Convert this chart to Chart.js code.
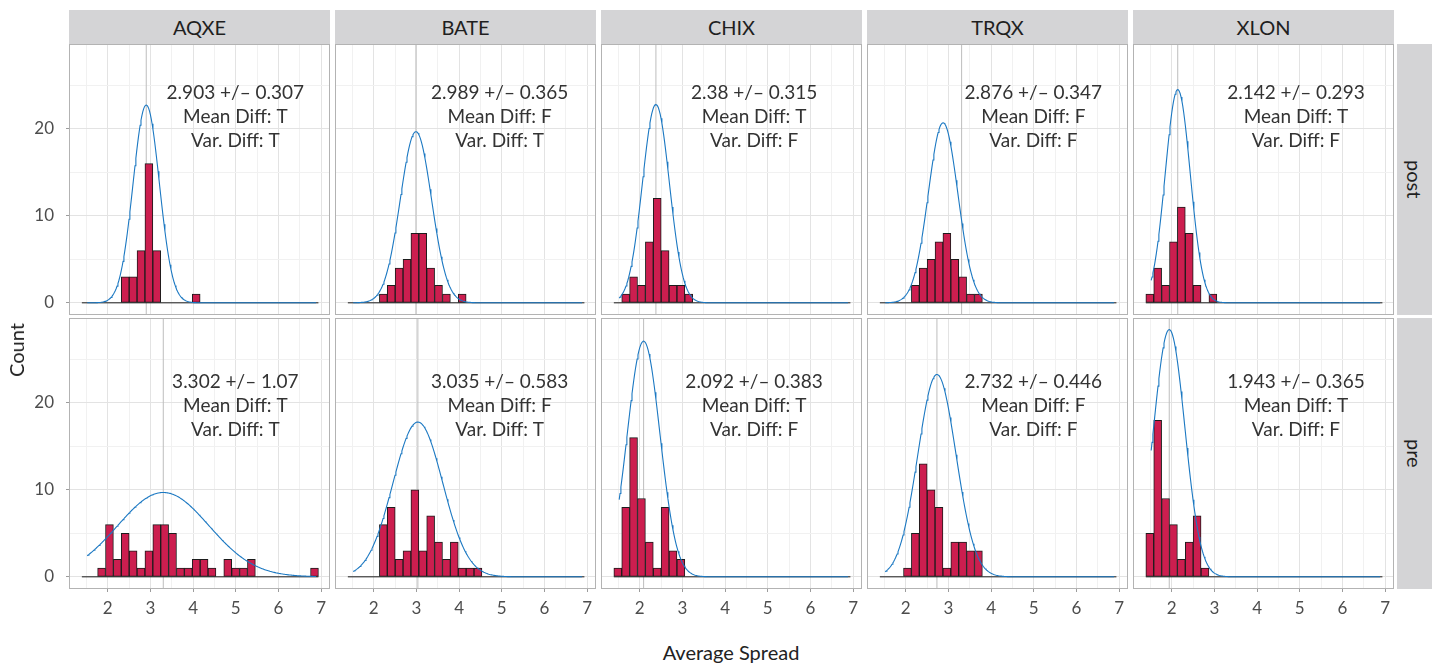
<!DOCTYPE html>
<html>
<head>
<meta charset="utf-8">
<script src="https://cdn.jsdelivr.net/npm/chart.js@4.4.1/dist/chart.umd.min.js"></script>
<style>
  body { margin: 0; background: #fff; font-family: Lato, sans-serif; }
  #wrap { position: relative; width: 1432px; height: 665px; overflow: hidden; background: #fff; }
  #wrap canvas { position: absolute; }
  .strip { position: absolute; background: #d4d4d6; color: #1f1f1f; font-size: 20px;
           display: flex; align-items: center; justify-content: center; }
  .strip.side span { writing-mode: vertical-rl; }
  .axisTitle { position: absolute; color: #222; font-size: 20px; white-space: nowrap; }
</style>
</head>
<body>
<div id="wrap"></div>
<script>
// facets
var markets = ['AQXE', 'BATE', 'CHIX', 'TRQX', 'XLON'];
var periods = ['post', 'pre'];

// histogram bins shared by all panels (30 bins)
var binStart = 1.395;
var binWidth = 0.1847;

// counts per bin
var postAQXE = [0,0,0,0,0,3,3,6,16,6,0,0,0,0,1,0,0,0,0,0,0,0,0,0,0,0,0,0,0,0];
var postBATE = [0,0,0,0,1,2,4,5,8,8,4,2,1,0,1,0,0,0,0,0,0,0,0,0,0,0,0,0,0,0];
var postCHIX = [0,1,3,2,7,12,6,2,2,1,0,0,0,0,0,0,0,0,0,0,0,0,0,0,0,0,0,0,0,0];
var postTRQX = [0,0,0,0,2,4,5,7,8,5,3,1,1,0,0,0,0,0,0,0,0,0,0,0,0,0,0,0,0,0];
var postXLON = [1,4,2,7,11,8,2,0,1,0,0,0,0,0,0,0,0,0,0,0,0,0,0,0,0,0,0,0,0,0];
var preAQXE  = [0,0,1,6,2,5,3,1,3,6,6,5,1,1,2,2,1,0,2,1,1,2,0,0,0,0,0,0,0,1];
var preBATE  = [0,0,0,0,6,8,2,3,10,3,7,4,2,4,1,1,1,0,0,0,0,0,0,0,0,0,0,0,0,0];
var preCHIX  = [1,8,16,9,4,1,8,3,2,0,0,0,0,0,0,0,0,0,0,0,0,0,0,0,0,0,0,0,0,0];
var preTRQX  = [0,0,0,1,5,13,10,8,1,4,4,3,3,0,0,0,0,0,0,0,0,0,0,0,0,0,0,0,0,0];
var preXLON  = [5,18,9,6,2,4,7,1,0,0,0,0,0,0,0,0,0,0,0,0,0,0,0,0,0,0,0,0,0,0];

// fitted normal curves and test results (from the panel labels)
var postMean = [2.903, 2.989, 2.38, 2.876, 2.142];
var postSd   = [0.307, 0.365, 0.315, 0.347, 0.293];
var preMean  = [3.302, 3.035, 2.092, 2.732, 1.943];
var preSd    = [1.07, 0.583, 0.383, 0.446, 0.365];
var meanDiff = ['T', 'F', 'T', 'F', 'T'];
var varDiff  = ['T', 'T', 'F', 'F', 'F'];
var curveBinWidth = 0.5;
var curveFrom = 1.52, curveTo = 6.88;

// grey reference line in each panel
var postRefLine = [2.903, 2.989, 2.38, 3.31, 2.142];
var preRefLine  = [3.302, 3.035, 2.092, 2.732, 1.943];

// axes
var xTicks = [2, 3, 4, 5, 6, 7];
var xMinor = [1.5, 2.5, 3.5, 4.5, 5.5, 6.5];
var yTicks = [0, 10, 20];
var yMinor = [5, 15, 25];

var counts = [[postAQXE, postBATE, postCHIX, postTRQX, postXLON],
              [preAQXE, preBATE, preCHIX, preTRQX, preXLON]];
var means = [postMean, preMean];
var sds = [postSd, preSd];
var refLines = [postRefLine, preRefLine];

// layout (pixels)
var PANEL_X0 = 69, PANEL_STEP = 266, PANEL_W = 261, PANEL_H = 271;
var ROW_TOP = [44, 318];
var labelX = [4.99, 4.95, 4.68, 4.99, 4.91];
var labelY = [23.39, 21.67];
var LINE_GAP = 24;

var wrap = document.getElementById('wrap');

function dnorm(x, m, s) {
    return Math.exp(-0.5 * Math.pow((x - m) / s, 2)) / (s * Math.sqrt(2 * Math.PI));
}

function makePanel(r, c) {
    var data = counts[r][c];
    var m = means[r][c], s = sds[r][c];
    var n = data.reduce(function (a, b) { return a + b; }, 0);

    var bars = data.map(function (v, i) {
        return { x: binStart + (i + 0.5) * binWidth, y: v };
    });
    var curve = [];
    for (var x = curveFrom; x <= curveTo + 1e-9; x += 0.02) {
        curve.push({ x: x, y: n * curveBinWidth * dnorm(x, m, s) });
    }
    var baseline = [{ x: binStart, y: 0 }, { x: binStart + data.length * binWidth, y: 0 }];
    var ref = [{ x: refLines[r][c], y: -5 }, { x: refLines[r][c], y: 40 }];

    var padLeft = c === 0 ? PANEL_X0 : 0;
    var padBottom = r === 1 ? 42 : 0;
    var canvas = document.createElement('canvas');
    canvas.width = padLeft + PANEL_W;
    canvas.height = PANEL_H + padBottom;
    canvas.style.left = (c === 0 ? 0 : PANEL_X0 + c * PANEL_STEP) + 'px';
    canvas.style.top = ROW_TOP[r] + 'px';
    wrap.appendChild(canvas);

    var lines = [m + ' +/\u2013 ' + s, 'Mean Diff: ' + meanDiff[c], 'Var. Diff: ' + varDiff[c]];

    new Chart(canvas.getContext('2d'), {
        type: 'bar',
        data: {
            datasets: [
                { type: 'line', data: curve, borderColor: '#1b78c2', borderWidth: 1.1,
                  pointRadius: 0, fill: false, tension: 0 },
                { data: bars, backgroundColor: '#cc1e4f', borderColor: '#1c1c1c', borderWidth: 1,
                  borderSkipped: false, barPercentage: 1, categoryPercentage: 1 },
                { type: 'line', data: baseline, borderColor: '#1c1c1c', borderWidth: 1,
                  pointRadius: 0, fill: false },
                { type: 'line', data: ref, borderColor: '#bdbdbd', borderWidth: 1,
                  pointRadius: 0, fill: false }
            ]
        },
        options: {
            responsive: false,
            animation: false,
            layout: { padding: 0 },
            plugins: { legend: { display: false }, tooltip: { enabled: false } },
            scales: {
                x: {
                    type: 'linear', min: 1.094, max: 7.207, offset: false,
                    afterBuildTicks: function (sc) {
                        sc.ticks = xMinor.concat(xTicks).sort(function (a, b) { return a - b; })
                            .map(function (v) { return { value: v }; });
                    },
                    afterFit: function (sc) {
                        sc.height = padBottom;
                        sc.paddingLeft = 0; sc.paddingRight = 0;
                        sc.paddingTop = 0; sc.paddingBottom = 0;
                    },
                    border: { display: false },
                    grid: {
                        offset: false,
                        color: function (ctx) { return xTicks.indexOf(ctx.tick.value) >= 0 ? '#e3e3e3' : '#f1f1f1'; },
                        drawTicks: r === 1, tickLength: 3,
                        tickColor: function (ctx) { return xTicks.indexOf(ctx.tick.value) >= 0 ? '#9c9c9c' : 'rgba(0,0,0,0)'; }
                    },
                    ticks: {
                        display: r === 1, autoSkip: false, maxRotation: 0, padding: 6,
                        color: '#4d4d4d', font: { family: 'Lato', size: 17 },
                        callback: function (v) { return xTicks.indexOf(v) >= 0 ? String(v) : ''; }
                    }
                },
                y: {
                    type: 'linear', min: -1.4, max: 29.75,
                    afterBuildTicks: function (sc) {
                        sc.ticks = yTicks.concat(yMinor).sort(function (a, b) { return a - b; })
                            .map(function (v) { return { value: v }; });
                    },
                    afterFit: function (sc) {
                        sc.width = padLeft;
                        sc.paddingLeft = 0; sc.paddingRight = 0;
                        sc.paddingTop = 0; sc.paddingBottom = 0;
                    },
                    border: { display: false },
                    grid: {
                        color: function (ctx) { return yTicks.indexOf(ctx.tick.value) >= 0 ? '#e3e3e3' : '#f1f1f1'; },
                        drawTicks: c === 0, tickLength: 3,
                        tickColor: function (ctx) { return yTicks.indexOf(ctx.tick.value) >= 0 ? '#9c9c9c' : 'rgba(0,0,0,0)'; }
                    },
                    ticks: {
                        display: c === 0, autoSkip: false, padding: 12,
                        color: '#4d4d4d', font: { family: 'Lato', size: 17 },
                        callback: function (v) { return yTicks.indexOf(v) >= 0 ? String(v) : ''; }
                    }
                }
            }
        },
        plugins: [{
            id: 'panelText',
            afterDatasetsDraw: function (chart) {
                var ctx = chart.ctx;
                var px = chart.scales.x.getPixelForValue(labelX[c]);
                var py = chart.scales.y.getPixelForValue(labelY[r]);
                ctx.save();
                ctx.font = '19px Lato';
                ctx.fillStyle = '#333333';
                ctx.textAlign = 'center';
                ctx.textBaseline = 'alphabetic';
                lines.forEach(function (t, i) { ctx.fillText(t, px, py + i * LINE_GAP); });
                ctx.restore();
            },
            afterDraw: function (chart) {
                var a = chart.chartArea, ctx = chart.ctx;
                ctx.save();
                ctx.strokeStyle = '#b3b3b3';
                ctx.lineWidth = 1;
                ctx.strokeRect(a.left + 0.5, a.top + 0.5, a.right - a.left - 1, a.bottom - a.top - 1);
                ctx.restore();
            }
        }]
    });
}

// strips
markets.forEach(function (name, c) {
    var d = document.createElement('div');
    d.className = 'strip';
    d.style.left = (PANEL_X0 + c * PANEL_STEP) + 'px';
    d.style.top = '10px';
    d.style.width = PANEL_W + 'px';
    d.style.height = '34px';
    d.textContent = name;
    wrap.appendChild(d);
});
periods.forEach(function (name, r) {
    var d = document.createElement('div');
    d.className = 'strip side';
    d.style.left = '1397px';
    d.style.top = ROW_TOP[r] + 'px';
    d.style.width = '35px';
    d.style.height = PANEL_H + 'px';
    d.innerHTML = '<span>' + name + '</span>';
    wrap.appendChild(d);
});

for (var r = 0; r < 2; r++) {
    for (var c = 0; c < 5; c++) makePanel(r, c);
}

var xt = document.createElement('div');
xt.className = 'axisTitle';
xt.textContent = 'Average Spread';
xt.style.left = '731px';
xt.style.top = '652px';
xt.style.transform = 'translate(-50%, -50%)';
wrap.appendChild(xt);

var yt = document.createElement('div');
yt.className = 'axisTitle';
yt.textContent = 'Count';
yt.style.left = '16px';
yt.style.top = '350px';
yt.style.transform = 'translate(-50%, -50%) rotate(-90deg)';
wrap.appendChild(yt);
</script>
</body>
</html>
